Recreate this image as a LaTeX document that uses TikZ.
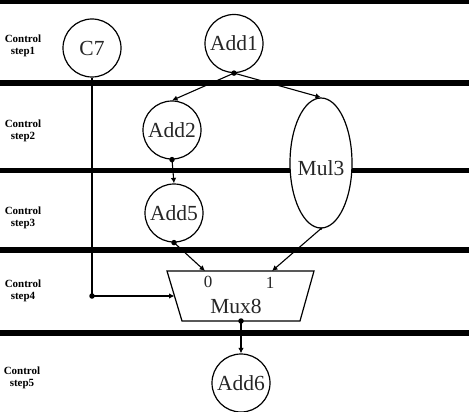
\documentclass[tikz,border=0pt]{standalone}
\usepackage{fontspec}
\setmainfont{Liberation Serif}
\usetikzlibrary{arrows.meta,shapes.geometric}
\begin{document}
\begin{tikzpicture}[x=1pt,y=-1pt,
  bar/.style={line width=5.5pt},
  optext/.style={font=\fontsize{21.5}{21.5}\selectfont,text=black!85},
  op/.style={circle,draw,line width=1.2pt,fill=white,minimum size=58pt,inner sep=0pt,optext},
  steplbl/.style={font=\fontsize{11}{12.5}\selectfont\bfseries,align=center,inner sep=0pt},
  wire/.style={line width=1.1pt,-{Latex[length=5.5pt,width=5.5pt]}},
  dot/.style={circle,fill,inner sep=0pt,minimum size=5.5pt}]
\useasboundingbox (0,0) rectangle (469,412);
% control step boundaries
\foreach \y in {1.5,83,170.5,250,333}
  \draw[bar] (0,\y) -- (469,\y);
% step labels
\node[steplbl] (s1) at (23,46) {Control\\step1};
\node[steplbl] (s2) at (23,131) {Control\\step2};
\node[steplbl] (s3) at (23,218) {Control\\step3};
\node[steplbl] (s4) at (23,291) {Control\\step4};
\node[steplbl] (s5) at (22,378) {Control\\step5};
% operations
\node[op] (c7) at (92,48) {C7};
\node[op] (add1) at (234,43.5) {Add1};
\node[op] (add2) at (172,130) {Add2};
\node[op] (add5) at (174,213) {Add5};
\node[ellipse,draw,line width=1.2pt,fill=white,minimum width=62pt,minimum height=130pt,inner sep=0pt] (mul3) at (321,163) {};
\node[optext] (mullbl) at (321,168) {Mul3};
\node[op] (add6) at (241,383) {Add6};
% multiplexer
\coordinate (mtl) at (167,271);
\coordinate (mtr) at (314,271);
\coordinate (mbr) at (300,321);
\coordinate (mbl) at (182,321);
\draw[line width=1.2pt,fill=white] (mtl) -- (mtr) -- (mbr) -- (mbl) -- cycle;
\node[optext] (mux) at (236,306) {Mux8};
\node[font=\fontsize{17}{17}\selectfont,text=black!85] (in0) at (208,282) {0};
\node[font=\fontsize{17}{17}\selectfont,text=black!85] (in1) at (270,283) {1};
\coordinate (m0) at (205,271);
\coordinate (m1) at (272,271);
\coordinate (mleft) at (174.5,296);
\coordinate (mbot) at (241,321);
\coordinate (c7turn) at (92,296);
% connectors
\node[dot] (d1) at (add1.south) {};
\draw[wire] (d1.center) -- (add2.north);
\draw[wire] (d1.center) -- (mul3.north);
\node[dot] (d2) at (add2.south) {};
\draw[wire] (d2.center) -- (add5.north);
\node[dot] (d5) at (add5.south) {};
\draw[wire] (d5.center) -- (m0);
\node[dot,minimum size=3pt] (d3) at (mul3.south) {};
\draw[wire] (d3.center) -- (m1);
\draw[line width=1.1pt] (c7.south) -- (c7turn);
\node[dot] (d7) at (c7turn) {};
\draw[wire] (d7.center) -- (mleft);
\node[dot] (d8) at (mbot) {};
\draw[wire] (d8.center) -- (add6.north);
\end{tikzpicture}
\end{document}
